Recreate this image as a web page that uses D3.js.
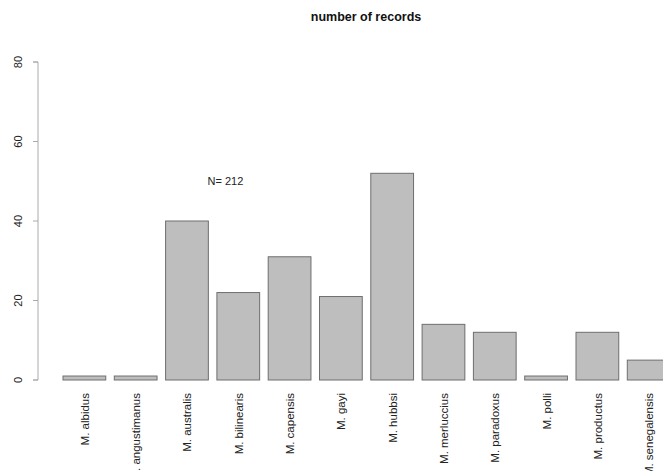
<!DOCTYPE html>
<html><head><meta charset="utf-8">
<script src="https://cdn.jsdelivr.net/npm/d3@7"></script>
<style>body{margin:0;background:#fff}svg{display:block}text{font-family:"Liberation Sans",Arial,sans-serif}</style>
</head><body><svg id="c" width="663" height="471"></svg>
<script>
const categories = ["M. albidus","M. angustimanus","M. australis","M. bilinearis","M. capensis","M. gayi","M. hubbsi","M. merluccius","M. paradoxus","M. polli","M. productus","M. senegalensis"];
const counts = [1,1,40,22,31,21,52,14,12,1,12,5];
const yTicks = [0,20,40,60,80];
const title = "number of records";
const note = {x: 4, y: 50, text: "N= 212"};

const svg = d3.select("#c");
// bar units: bar i spans [0.2+1.2i, 1.2+1.2i]
const x = d3.scaleLinear().domain([0, 1]).range([54.45, 54.45 + 42.75]);
const y = d3.scaleLinear().domain([0, 80]).range([380, 62]);

const bars = svg.append("g");
categories.forEach((c, i) => {
  const l = 0.2 + 1.2 * i;
  bars.append("rect")
    .attr("x", x(l)).attr("width", x(l + 1) - x(l))
    .attr("y", y(counts[i])).attr("height", y(0) - y(counts[i]))
    .attr("fill", "#bebebe").attr("stroke", "#6e6e6e").attr("stroke-width", 1);
  const cx = x(l + 0.5);
  svg.append("text")
    .attr("transform", `translate(${cx + 4.5},393) rotate(-90)`)
    .attr("text-anchor", "end").attr("font-size", 11.5).attr("fill", "#222")
    .text(c);
});

const ax = d3.axisLeft(y).tickValues(yTicks).tickSize(5).tickPadding(0).tickFormat(d3.format("d"));
const g = svg.append("g").attr("transform", "translate(38,0)").call(ax);
g.select(".domain").attr("stroke", "#aaa").attr("d", `M-5,${y(80)}H0V${y(0)}H-5`);
g.selectAll(".tick line").attr("stroke", "#aaa");
g.selectAll(".tick text")
  .attr("transform", d => `translate(-20,${y(d)}) rotate(-90)`)
  .attr("x", 0).attr("y", 0).attr("dy", "0.35em").attr("dx", 0)
  .attr("text-anchor", "middle").attr("font-size", 11).attr("fill", "#222");
g.selectAll(".tick").attr("transform", null);
g.selectAll(".tick line").attr("y1", d => y(d)).attr("y2", d => y(d)).attr("x2", -5);

svg.append("text").attr("x", 366).attr("y", 21).attr("text-anchor", "middle")
  .attr("font-weight", "bold").attr("font-size", 12.5).attr("fill", "#111").text(title);

svg.append("text").attr("x", x(note.x)).attr("y", y(note.y) + 4).attr("text-anchor", "middle")
  .attr("font-size", 11).attr("fill", "#222").text(note.text);
</script></body></html>
